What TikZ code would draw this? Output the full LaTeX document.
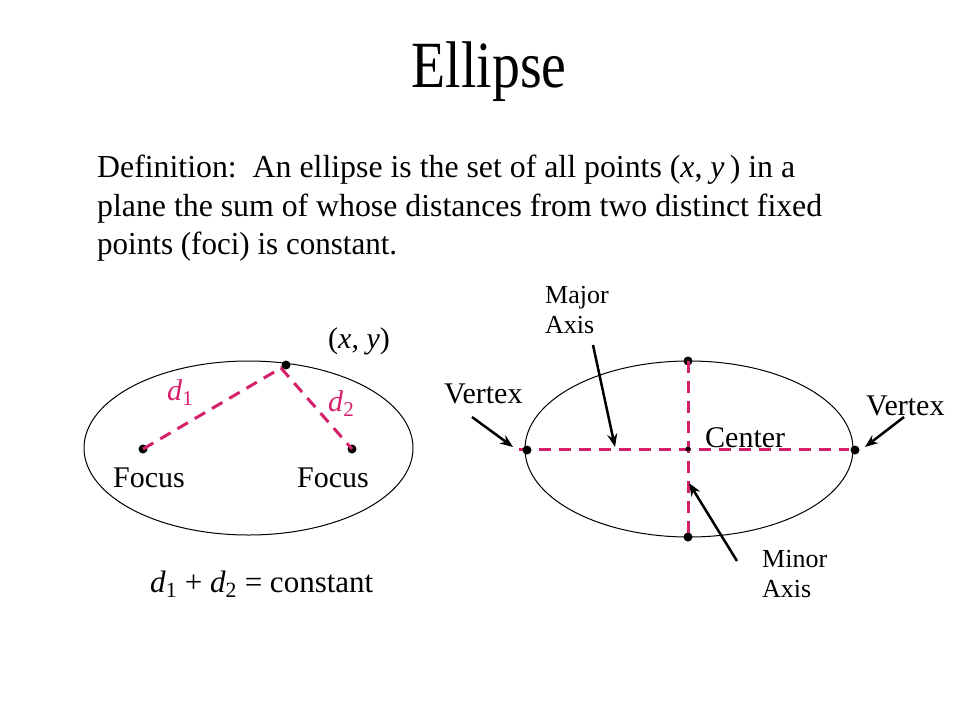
\documentclass[tikz,border=0pt]{standalone}
\usepackage{fontspec}
\setmainfont{Liberation Serif}
\usepackage{graphicx}
\usetikzlibrary{arrows.meta}
\definecolor{axispink}{RGB}{214,32,108}
\newcommand\dd[1]{\textit{d}\textsubscript{#1}}
\tikzset{
  axisdash/.style={draw=axispink, line width=3pt, dash pattern=on 12pt off 8pt},
  dotpt/.style={circle, fill=black, inner sep=0pt, minimum size=9pt},
  smalldot/.style={circle, fill=black, inner sep=0pt, minimum size=5pt},
  lbl/.style={anchor=base west, inner sep=0pt, font=\fontsize{30}{34}\selectfont},
  smalllbl/.style={anchor=base west, inner sep=0pt, align=left, font=\fontsize{26}{30}\selectfont},
  deftext/.style={anchor=base west, inner sep=0pt},
  pointer/.style={line width=2.5pt, -{Stealth[length=13pt,width=10pt]}},
  curve/.style={line width=1pt},
}
\begin{document}
\begin{tikzpicture}[x=1pt,y=-1pt]
\fill[white] (0,0) rectangle (960,720);
\useasboundingbox (0,0) rectangle (960,720);

% title
\node[anchor=base, inner sep=0pt] (title) at (489,87)
  {\resizebox{155pt}{\height}{\fontsize{66}{70}\selectfont Ellipse}};

% definition
\node[deftext] (def1) at (97,177)
  {\resizebox{698pt}{\height}{\fontsize{32}{36}\selectfont Definition:\ \ An ellipse is the set of all points (\textit{x}, \textit{y}\,) in a}};
\node[deftext] (def2) at (97,216)
  {\resizebox{725pt}{\height}{\fontsize{32}{36}\selectfont plane the sum of whose distances from two distinct fixed}};
\node[deftext] (def3) at (97,254)
  {\resizebox{300pt}{\height}{\fontsize{32}{36}\selectfont points (foci) is constant.}};

% ---------- left ellipse ----------
\draw[curve] (248.5,448) ellipse [x radius=164.5, y radius=87];
\coordinate (apex) at (281,368);
\node[dotpt] (F1) at (143,449) {};
\node[dotpt] (F2) at (352,449) {};
\draw[axisdash] (F1.center) -- (apex) -- (F2.center);
\node[dotpt] (P) at (286,365) {};
\node[lbl] (Plbl) at (328,348) {(\textit{x}, \textit{y})};
\node[lbl, text=axispink] (d1lbl) at (167,400) {\dd{1}};
\node[lbl, text=axispink] (d2lbl) at (328,411) {\dd{2}};
\node[lbl] (foc1) at (113,487) {Focus};
\node[lbl] (foc2) at (297,487) {Focus};
\node[lbl, font=\fontsize{31}{35}\selectfont] (sumlbl) at (150,592) {\dd{1} + \dd{2} = constant};

% ---------- right ellipse ----------
\draw[curve] (689,449) ellipse [x radius=164, y radius=88];
\coordinate (HL) at (519,449);
\coordinate (HR) at (849,449);
\node[dotpt] (T) at (688,361) {};
\node[dotpt] (B) at (688,537) {};
\draw[axisdash] (HL) -- (HR);
\draw[axisdash] (T.center) -- (B.center);
\node[dotpt] (V1) at (527,450) {};
\node[dotpt] (V2) at (855,450) {};
\node[smalldot] (C) at (688,449) {};

\node[lbl] (vtx1) at (444,403) {Vertex};
\node[lbl] (vtx2) at (866,415) {Vertex};
\node[lbl] (cen) at (705,447) {Center};
\node[smalllbl] (major) at (545,333) {Major\\Axis};
\node[smalllbl] (minor) at (762,597) {Minor\\Axis};

% pointers
\coordinate (majTail) at (593,345);
\coordinate (majHead) at (615,447);
\coordinate (minTail) at (737,561);
\coordinate (minHead) at (689,483);
\coordinate (v1Tail) at (472,417);
\coordinate (v1Head) at (513,447);
\coordinate (v2Tail) at (904,417);
\coordinate (v2Head) at (865,447);
\draw[pointer] (majTail) -- (majHead);
\draw[pointer] (minTail) -- (minHead);
\draw[pointer] (v1Tail) -- (v1Head);
\draw[pointer] (v2Tail) -- (v2Head);
\end{tikzpicture}
\end{document}
